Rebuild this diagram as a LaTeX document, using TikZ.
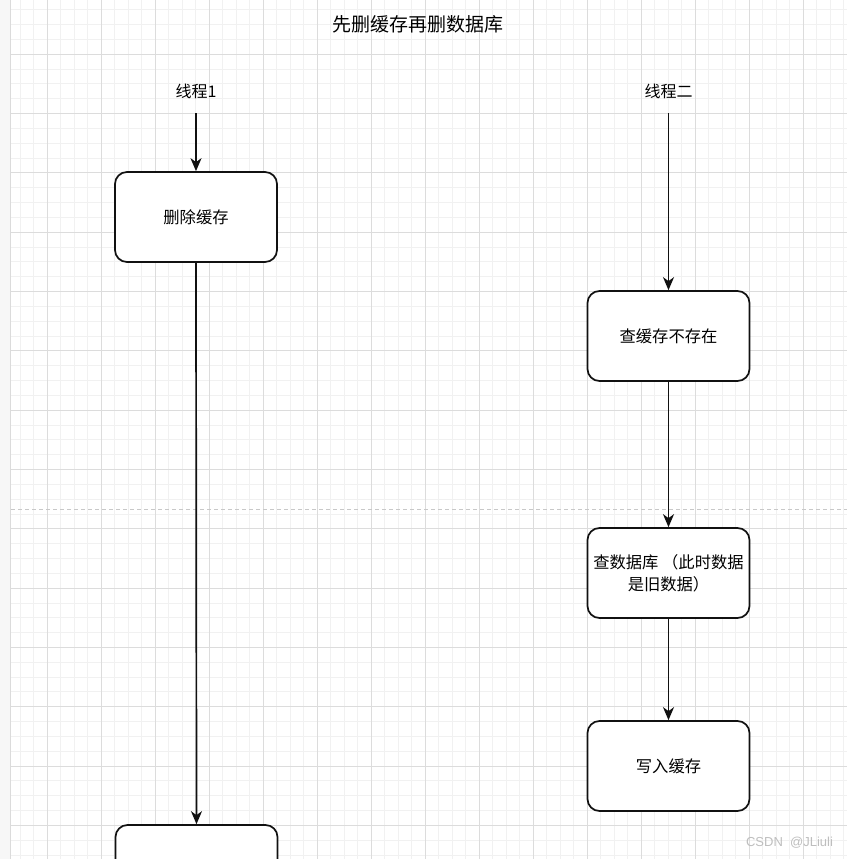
\documentclass[tikz,border=0pt]{standalone}
\usepackage{fontspec}
\setmainfont{Noto Sans CJK SC}
\newfontfamily\wmfont{Liberation Sans}
\usetikzlibrary{arrows.meta}

\definecolor{gridminor}{HTML}{F1F1F1}
\definecolor{gridmajor}{HTML}{DCDCDC}
\definecolor{pagebreak}{HTML}{C8C8C8}
\definecolor{inkline}{HTML}{111111}
\definecolor{wmgray}{HTML}{BEBEBE}

\tikzset{
  stepbox/.style={draw=inkline, fill=white, line width=1.7pt, rounded corners=12pt,
    minimum width=162pt, minimum height=90pt, align=center, inner sep=2pt,
    font=\fontsize{16.3}{22}\selectfont},
  threadlabel/.style={inner sep=0pt, minimum width=60pt, minimum height=44pt,
    font=\fontsize{16}{20}\selectfont},
  flow/.style={draw=inkline, line width=1.7pt, -{Stealth[length=13pt,width=11pt,inset=4pt]}},
}

\begin{document}
\begin{tikzpicture}[x=1pt, y=-1pt]
  \useasboundingbox (0,0) rectangle (847,859);
  \clip (0,0) rectangle (847,859);

  % canvas margin and page border
  \fill[white] (0,0) rectangle (847,859);
  \fill[gray!6] (0,0) rectangle (10,859);
  \draw[gray!28, line width=1pt] (10.5,0) -- (10.5,859);

  % background grid
  \foreach \i in {-2,...,59} {
    \draw[gridminor, line width=1pt] ({47+13.5*\i},0) -- ({47+13.5*\i},859);
  }
  \foreach \j in {-3,...,54} {
    \draw[gridminor, line width=1pt] (11,{54.3+14.83*\j}) -- (847,{54.3+14.83*\j});
  }
  \foreach \i in {0,...,14} {
    \draw[gridmajor, line width=1pt] ({47+54*\i},0) -- ({47+54*\i},859);
  }
  \foreach \j in {0,...,13} {
    \draw[gridmajor, line width=1pt] (11,{54.3+59.32*\j}) -- (847,{54.3+59.32*\j});
  }

  % page break
  \draw[pagebreak, line width=1.4pt, dash pattern=on 4pt off 3pt] (11,509.5) -- (847,509.5);

  % title
  \node[font=\fontsize{19}{22}\selectfont] (title) at (418,24) {先删缓存再删数据库};

  % thread 1
  \node[threadlabel] (t1) at (196,91) {线程1};
  \node[stepbox] (delcache) at (196,217) {删除缓存};
  \node[stepbox] (deldb) at (196.5,870) {};

  % thread 2
  \node[threadlabel] (t2) at (668.5,91) {线程二};
  \node[stepbox] (miss) at (668.5,336) {查缓存不存在};
  \node[stepbox] (readdb) at (668.5,573) {查数据库 （此时数据\\是旧数据）};
  \node[stepbox] (write) at (668.5,766) {写入缓存};

  % connectors
  \draw[flow] (t1.south) -- (delcache.north);
  \draw[flow] (delcache.south) -- (deldb.north);
  \draw[flow] (t2.south) -- (miss.north);
  \draw[flow] (miss.south) -- (readdb.north);
  \draw[flow] (readdb.south) -- (write.north);

  % watermark
  \node[font=\wmfont\fontsize{13}{15}\selectfont, text=wmgray] (wm) at (789.5,843) {CSDN\ \ @JLiuli};
\end{tikzpicture}
\end{document}
